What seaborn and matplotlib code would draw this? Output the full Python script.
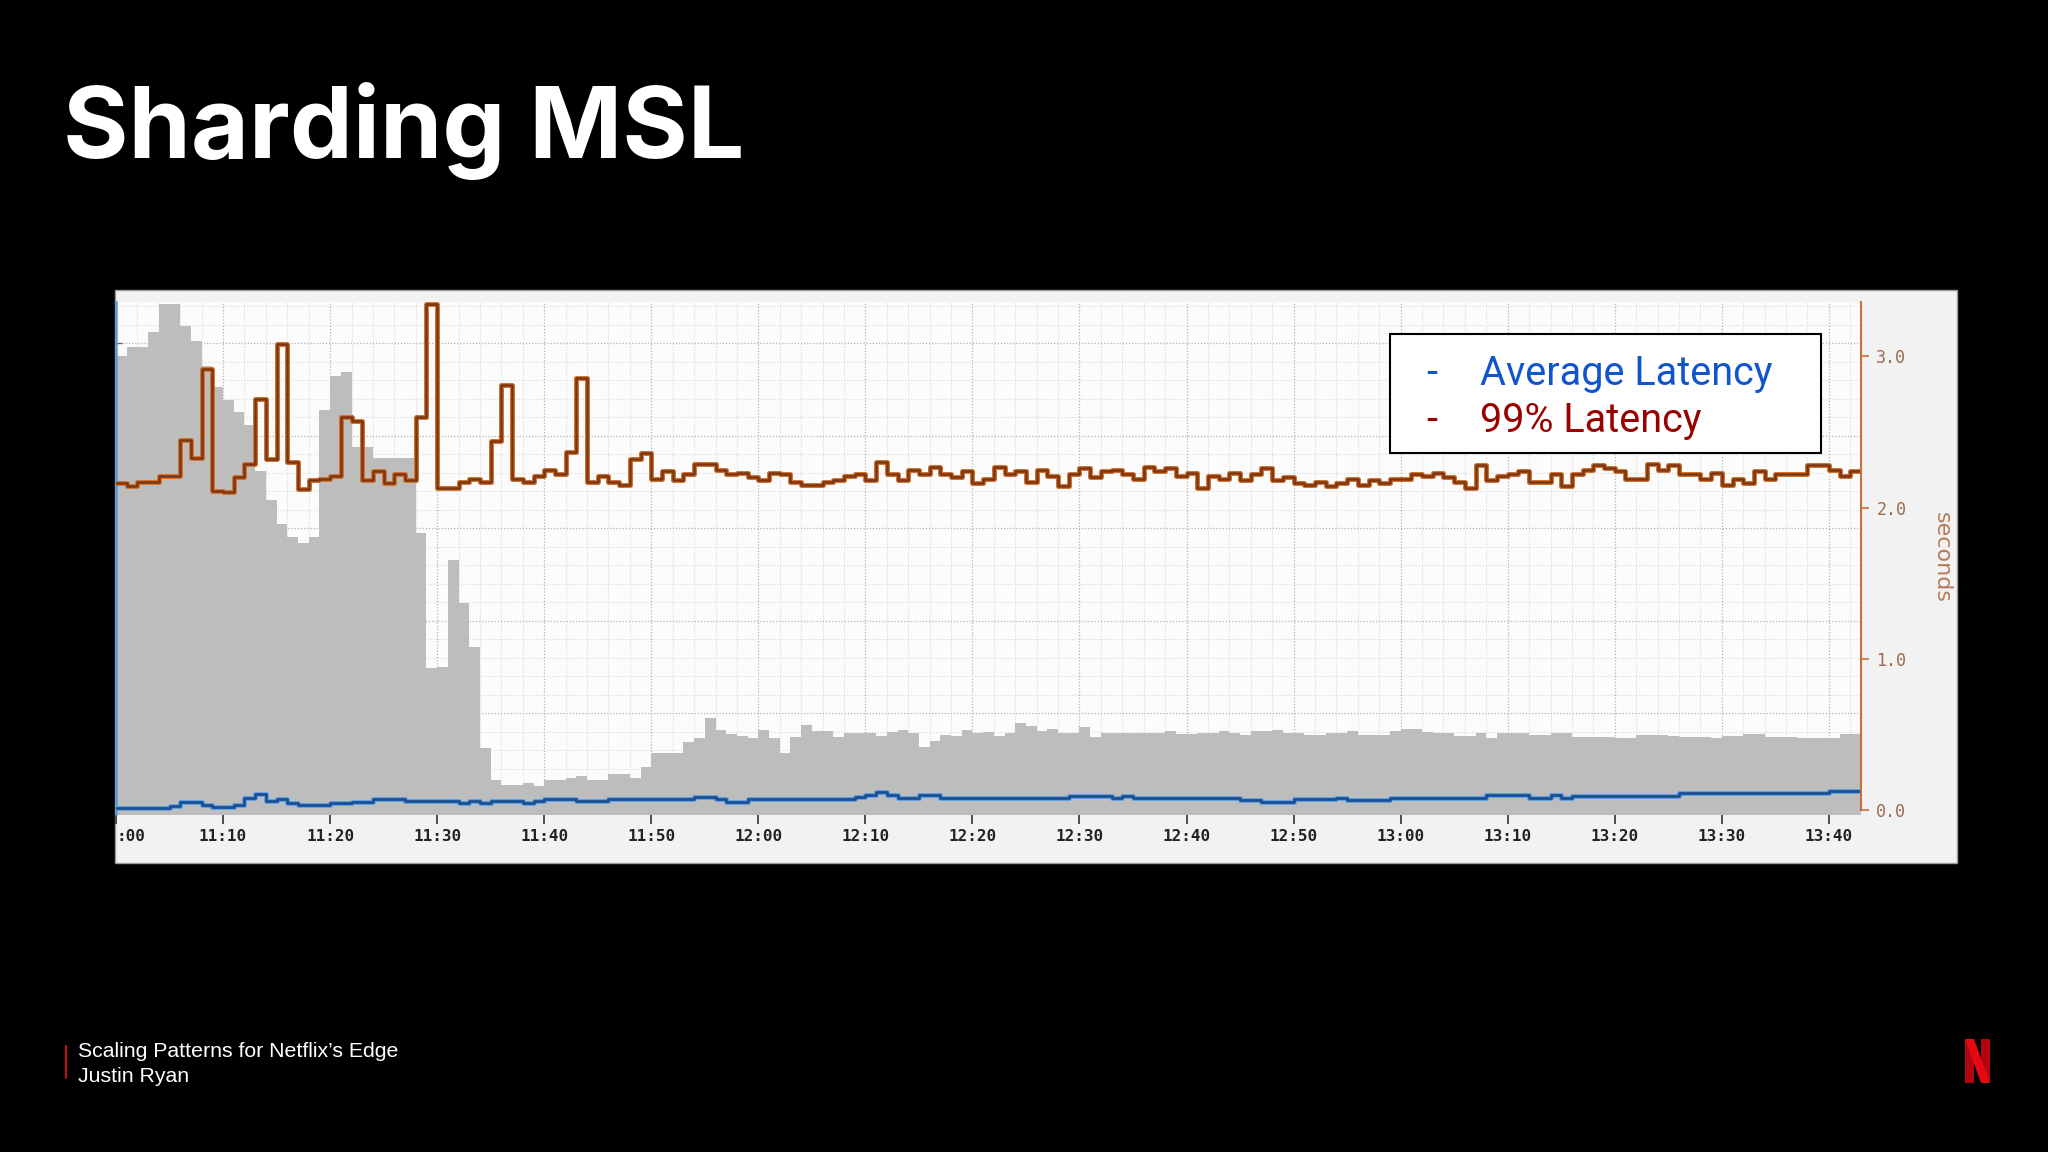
import matplotlib
matplotlib.use('Agg')
import matplotlib.pyplot as plt
import matplotlib.patches as mpatches
from matplotlib.lines import Line2D
from matplotlib.ticker import MultipleLocator, FixedLocator
import seaborn as sns

sns.set_style('white')
plt.rcParams['font.family'] = ['DejaVu Sans']

# minutes after 11:00, one sample per minute
minutes = list(range(163))
tick_minutes = [0, 10, 20, 30, 40, 50, 60, 70, 80, 90, 100, 110, 120, 130, 140, 150, 160]
tick_labels = [':00', '11:10', '11:20', '11:30', '11:40', '11:50', '12:00', '12:10', '12:20',
               '12:30', '12:40', '12:50', '13:00', '13:10', '13:20', '13:30', '13:40']
seconds_ticks = [0.0, 1.0, 2.0, 3.0]

# grey area (left axis, unlabelled)
traffic = [4.86, 4.96, 4.96, 5.12, 5.42, 5.42, 5.18, 5.02, 4.75, 4.52,
           4.38, 4.25, 4.11, 3.62, 3.30, 3.05, 2.91, 2.84, 2.91, 4.28,
           4.64, 4.69, 3.88, 3.88, 3.76, 3.76, 3.76, 3.76, 2.95, 1.49,
           1.50, 2.66, 2.19, 1.72, 0.63, 0.28, 0.23, 0.23, 0.25, 0.22,
           0.28, 0.28, 0.30, 0.32, 0.28, 0.28, 0.35, 0.35, 0.30, 0.42,
           0.57, 0.57, 0.57, 0.69, 0.73, 0.95, 0.82, 0.78, 0.76, 0.73,
           0.82, 0.73, 0.57, 0.75, 0.88, 0.81, 0.81, 0.75, 0.79, 0.79,
           0.79, 0.76, 0.80, 0.82, 0.79, 0.64, 0.70, 0.77, 0.76, 0.82,
           0.79, 0.80, 0.76, 0.79, 0.90, 0.86, 0.81, 0.83, 0.79, 0.79,
           0.85, 0.75, 0.79, 0.79, 0.79, 0.79, 0.79, 0.79, 0.81, 0.78,
           0.78, 0.79, 0.79, 0.81, 0.79, 0.77, 0.81, 0.81, 0.82, 0.79,
           0.79, 0.77, 0.77, 0.79, 0.79, 0.81, 0.77, 0.77, 0.77, 0.81,
           0.83, 0.83, 0.80, 0.79, 0.79, 0.76, 0.76, 0.79, 0.73, 0.79,
           0.79, 0.79, 0.77, 0.77, 0.79, 0.79, 0.75, 0.75, 0.75, 0.75,
           0.73, 0.73, 0.77, 0.77, 0.77, 0.76, 0.75, 0.75, 0.75, 0.73,
           0.76, 0.76, 0.78, 0.78, 0.75, 0.75, 0.75, 0.73, 0.73, 0.73,
           0.73, 0.78, 0.78]

# 99th percentile latency, seconds
p99_latency = [2.16, 2.14, 2.17, 2.17, 2.21, 2.21, 2.45, 2.33, 2.92, 2.11,
               2.10, 2.20, 2.29, 2.72, 2.32, 3.08, 2.30, 2.12, 2.18, 2.19,
               2.21, 2.60, 2.57, 2.18, 2.24, 2.16, 2.22, 2.18, 2.60, 3.35,
               2.13, 2.13, 2.17, 2.19, 2.17, 2.44, 2.81, 2.19, 2.17, 2.21,
               2.25, 2.22, 2.37, 2.86, 2.17, 2.21, 2.17, 2.15, 2.32, 2.36,
               2.19, 2.24, 2.18, 2.22, 2.29, 2.29, 2.25, 2.22, 2.23, 2.20,
               2.18, 2.23, 2.22, 2.17, 2.15, 2.15, 2.17, 2.18, 2.21, 2.22,
               2.18, 2.30, 2.22, 2.18, 2.25, 2.22, 2.27, 2.22, 2.20, 2.24,
               2.16, 2.19, 2.27, 2.22, 2.24, 2.17, 2.25, 2.21, 2.14, 2.22,
               2.26, 2.20, 2.24, 2.25, 2.22, 2.19, 2.27, 2.24, 2.26, 2.21,
               2.23, 2.13, 2.21, 2.19, 2.23, 2.18, 2.22, 2.26, 2.18, 2.20,
               2.16, 2.15, 2.17, 2.14, 2.16, 2.19, 2.15, 2.18, 2.16, 2.19,
               2.19, 2.22, 2.21, 2.23, 2.20, 2.17, 2.13, 2.28, 2.18, 2.21,
               2.22, 2.24, 2.17, 2.17, 2.22, 2.14, 2.22, 2.25, 2.28, 2.26,
               2.24, 2.19, 2.19, 2.29, 2.25, 2.28, 2.22, 2.22, 2.19, 2.23,
               2.15, 2.19, 2.16, 2.24, 2.19, 2.22, 2.22, 2.22, 2.28, 2.28,
               2.25, 2.21, 2.24]

# average latency, seconds
avg_latency = [0.010, 0.010, 0.010, 0.010, 0.010, 0.025, 0.054, 0.054, 0.032, 0.019,
               0.019, 0.032, 0.076, 0.107, 0.058, 0.069, 0.043, 0.032, 0.032, 0.032,
               0.043, 0.043, 0.054, 0.054, 0.069, 0.069, 0.069, 0.058, 0.058, 0.058,
               0.058, 0.058, 0.043, 0.058, 0.043, 0.058, 0.058, 0.058, 0.043, 0.058,
               0.069, 0.069, 0.069, 0.058, 0.058, 0.058, 0.069, 0.069, 0.069, 0.069,
               0.069, 0.069, 0.069, 0.069, 0.085, 0.085, 0.070, 0.054, 0.054, 0.069,
               0.069, 0.069, 0.069, 0.069, 0.069, 0.069, 0.069, 0.069, 0.069, 0.085,
               0.100, 0.120, 0.097, 0.080, 0.080, 0.096, 0.096, 0.080, 0.080, 0.080,
               0.080, 0.080, 0.080, 0.080, 0.080, 0.080, 0.080, 0.080, 0.080, 0.090,
               0.090, 0.090, 0.090, 0.080, 0.094, 0.080, 0.080, 0.080, 0.080, 0.080,
               0.080, 0.080, 0.080, 0.080, 0.080, 0.065, 0.065, 0.052, 0.052, 0.052,
               0.070, 0.070, 0.070, 0.070, 0.082, 0.067, 0.067, 0.067, 0.067, 0.082,
               0.082, 0.082, 0.082, 0.082, 0.082, 0.082, 0.082, 0.082, 0.098, 0.098,
               0.098, 0.098, 0.080, 0.080, 0.098, 0.080, 0.094, 0.094, 0.094, 0.094,
               0.094, 0.094, 0.094, 0.094, 0.094, 0.094, 0.110, 0.110, 0.110, 0.110,
               0.110, 0.110, 0.110, 0.110, 0.110, 0.110, 0.110, 0.110, 0.110, 0.110,
               0.125, 0.125, 0.125]

W, H = 2048, 1152


def fx(px):
    return px / W


def fy(py):
    return 1 - py / H


fig = plt.figure(figsize=(20.48, 11.52), dpi=100, facecolor='black')

# light screenshot panel behind the chart
fig.patches.append(mpatches.Rectangle((fx(115), fy(863)), fx(1957) - fx(115), fy(290) - fy(863),
                                      transform=fig.transFigure, facecolor='#f2f2f2',
                                      edgecolor='#9a9a9a', lw=1.0, zorder=-1))

ax = fig.add_axes([fx(116), fy(814), fx(1861) - fx(116), fy(302) - fy(814)])
ax.set_facecolor('#fcfcfc')

# step ends at the right edge
xs = minutes + [163]
ax.fill_between(xs, traffic + [traffic[-1]], -1, step='post', color='#bdbdbd', lw=0)
ax.set_xlim(0, 163)
ax.set_ylim(-0.086, 5.443)

ax.xaxis.set_major_locator(FixedLocator(tick_minutes))
ax.xaxis.set_minor_locator(MultipleLocator(2))
ax.yaxis.set_major_locator(MultipleLocator(1))
ax.yaxis.set_minor_locator(MultipleLocator(0.2))
ax.grid(which='major', color='#b4b4b4', ls=(0, (1, 1.5)), lw=0.9)
ax.grid(which='minor', color='#d9d9d9', ls=(0, (1, 1.5)), lw=0.8)
ax.set_axisbelow(True)

ax.set_xticklabels(tick_labels)
ax.tick_params(axis='x', which='major', direction='out', length=7, width=1.2, color='#333333',
               pad=4, labelsize=11.5, labelcolor='#222222', bottom=True)
ax.tick_params(axis='x', which='minor', length=0)
ax.tick_params(axis='y', which='major', direction='in', length=4, width=1, color='#666666',
               labelleft=False, left=True)
ax.tick_params(axis='y', which='minor', length=0)
for lbl in ax.get_xticklabels():
    lbl.set_fontfamily('DejaVu Sans Mono')
    lbl.set_fontweight('bold')
ax.get_xticklabels()[0].set_ha('left')

for side in ['top', 'right', 'bottom']:
    ax.spines[side].set_visible(False)
ax.spines['left'].set_color('#5b9bd5')
ax.spines['left'].set_linewidth(1.8)

# latency lines on the seconds axis
ax2 = ax.twinx()
p99_x = xs
p99_y = p99_latency + [p99_latency[-1]]
avg_y = avg_latency + [avg_latency[-1]]
sns.lineplot(x=p99_x, y=p99_y, ax=ax2, color='#d2732f', linewidth=3.6, drawstyle='steps-post')
sns.lineplot(x=p99_x, y=p99_y, ax=ax2, color='#7a3512', linewidth=1.8, drawstyle='steps-post')
sns.lineplot(x=p99_x, y=avg_y, ax=ax2, color='#5fa3e6', linewidth=3.6, drawstyle='steps-post')
sns.lineplot(x=p99_x, y=avg_y, ax=ax2, color='#1d4f8f', linewidth=2.0, drawstyle='steps-post')
ax2.set_xlim(0, 163)
ax2.set_ylim(-0.027, 3.36)
ax2.set_yticks(seconds_ticks)
ax2.set_yticklabels(['%.1f' % v for v in seconds_ticks])
ax2.tick_params(axis='y', direction='out', length=6, width=1.2, color='#c8703a', pad=5,
                labelsize=12, labelcolor='#9b6a4f', right=True)
for lbl in ax2.get_yticklabels():
    lbl.set_fontfamily('DejaVu Sans Mono')
for side in ['top', 'left', 'bottom']:
    ax2.spines[side].set_visible(False)
ax2.spines['right'].set_color('#c8703a')
ax2.spines['right'].set_linewidth(1.5)
ax2.spines['right'].set_bounds(0, 3.36)
ax2.set_xlabel('')
ax2.set_ylabel('')

fig.text(fx(1942), fy(558), 'seconds', rotation=270, ha='center', va='center',
         fontsize=16, color='#b47c58')

# legend box
fig.patches.append(mpatches.Rectangle((fx(1390), fy(453)), fx(1821) - fx(1390), fy(334) - fy(453),
                                      transform=fig.transFigure, facecolor='white',
                                      edgecolor='black', lw=1.5, zorder=5))
fig.text(fx(1426), fy(385), '-', fontsize=28.5, color='#1155cc', family='Roboto', va='baseline', zorder=6)
fig.text(fx(1480), fy(385), 'Average Latency', fontsize=28.5, color='#1155cc', family='Roboto',
         va='baseline', zorder=6)
fig.text(fx(1426), fy(432), '-', fontsize=28.5, color='#990000', family='Roboto', va='baseline', zorder=6)
fig.text(fx(1480), fy(432), '99% Latency', fontsize=28.5, color='#990000', family='Roboto',
         va='baseline', zorder=6)

# slide title and footer
fig.text(fx(63), fy(158), 'Sharding MSL', fontsize=72, fontweight='bold', family='Inter',
         color='white', va='baseline')
fig.lines.append(Line2D([fx(66), fx(66)], [fy(1046), fy(1078)], transform=fig.transFigure,
                        color='#c0101a', lw=1.5))
fig.text(fx(78), fy(1057), 'Scaling Patterns for Netflix\u2019s Edge', fontsize=15.3,
         family='Liberation Sans', color='white', va='baseline')
fig.text(fx(78), fy(1082), 'Justin Ryan', fontsize=15.3, family='Liberation Sans',
         color='white', va='baseline')

# Netflix "N"
for pts, col in [([(1965, 1039), (1974, 1039), (1974, 1083), (1965, 1083)], '#b1060f'),
                 ([(1981, 1039), (1990, 1039), (1990, 1083), (1981, 1083)], '#b1060f'),
                 ([(1965, 1039), (1974, 1039), (1990, 1083), (1981, 1083)], '#e50914')]:
    fig.patches.append(mpatches.Polygon([(fx(a), fy(b)) for a, b in pts], closed=True,
                                        transform=fig.transFigure, facecolor=col,
                                        edgecolor='none', zorder=5))

fig.savefig('out.png', dpi=100, facecolor='black')
